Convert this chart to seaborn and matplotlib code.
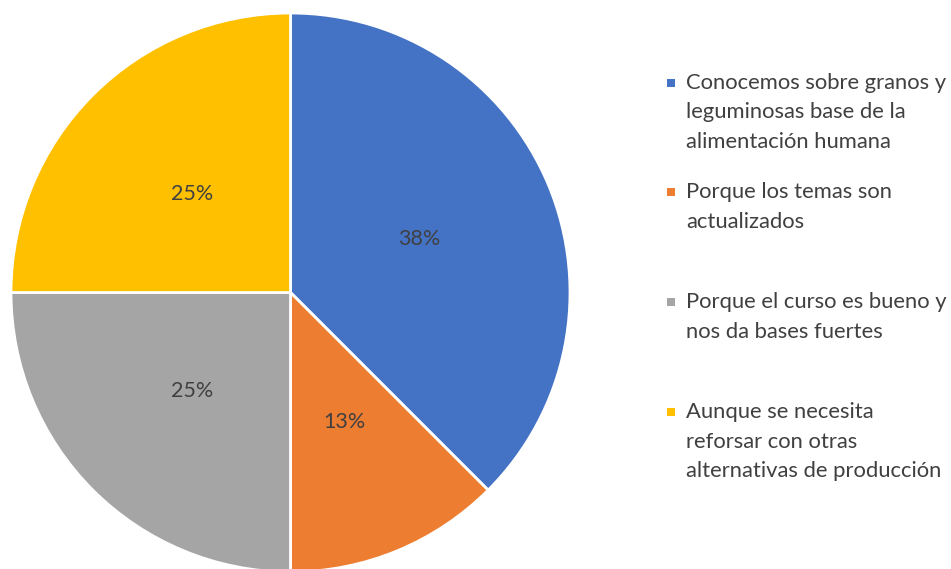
import matplotlib
matplotlib.use("Agg")
import matplotlib.pyplot as plt
import seaborn as sns
from matplotlib.patches import Rectangle

categories = [
    "Conocemos sobre granos y\nleguminosas base de la\nalimentación humana",
    "Porque los temas son\nactualizados",
    "Porque el curso es bueno y\nnos da bases fuertes",
    "Aunque se necesita\nreforsar con otras\nalternativas de producción",
]
values = [37.5, 12.5, 25.0, 25.0]
pct_labels = ["38%", "13%", "25%", "25%"]
colors = ["#4472C4", "#ED7D31", "#A5A5A5", "#FFC000"]

sns.set_style("white")
plt.rcParams["font.family"] = ["Lato", "DejaVu Sans"]

W, H = 951, 569
fig = plt.figure(figsize=(W / 100, H / 100), dpi=100)
cx, cy, r = 290.5, 292.5, 279.5
ax = fig.add_axes([(cx - r) / W, (H - cy - r) / H, 2 * r / W, 2 * r / H])
ax.pie(values, labels=pct_labels, colors=sns.color_palette(colors), startangle=90,
       counterclock=False, labeldistance=0.5, radius=1,
       wedgeprops=dict(edgecolor="white", linewidth=2),
       textprops=dict(ha="center", va="center", fontsize=15.5, color="#404040"))
ax.set_xlim(-1, 1)
ax.set_ylim(-1, 1)
ax.set_aspect("auto")
ax.axis("off")

# legend
entry_tops = [83, 192, 302, 412]  # center y of first line (pixels)
line_h = 29.5
for lab, col, y0 in zip(categories, colors, entry_tops):
    fig.patches.append(Rectangle((667 / W, (H - y0 - 4) / H), 8 / W, 8 / H,
                                 transform=fig.transFigure, facecolor=col, edgecolor="none"))
    for i, line in enumerate(lab.split("\n")):
        fig.text(686 / W, (H - (y0 + i * line_h)) / H, line, ha="left", va="center",
                 fontsize=15.8, color="#404040")

fig.savefig("out.png", dpi=100)
